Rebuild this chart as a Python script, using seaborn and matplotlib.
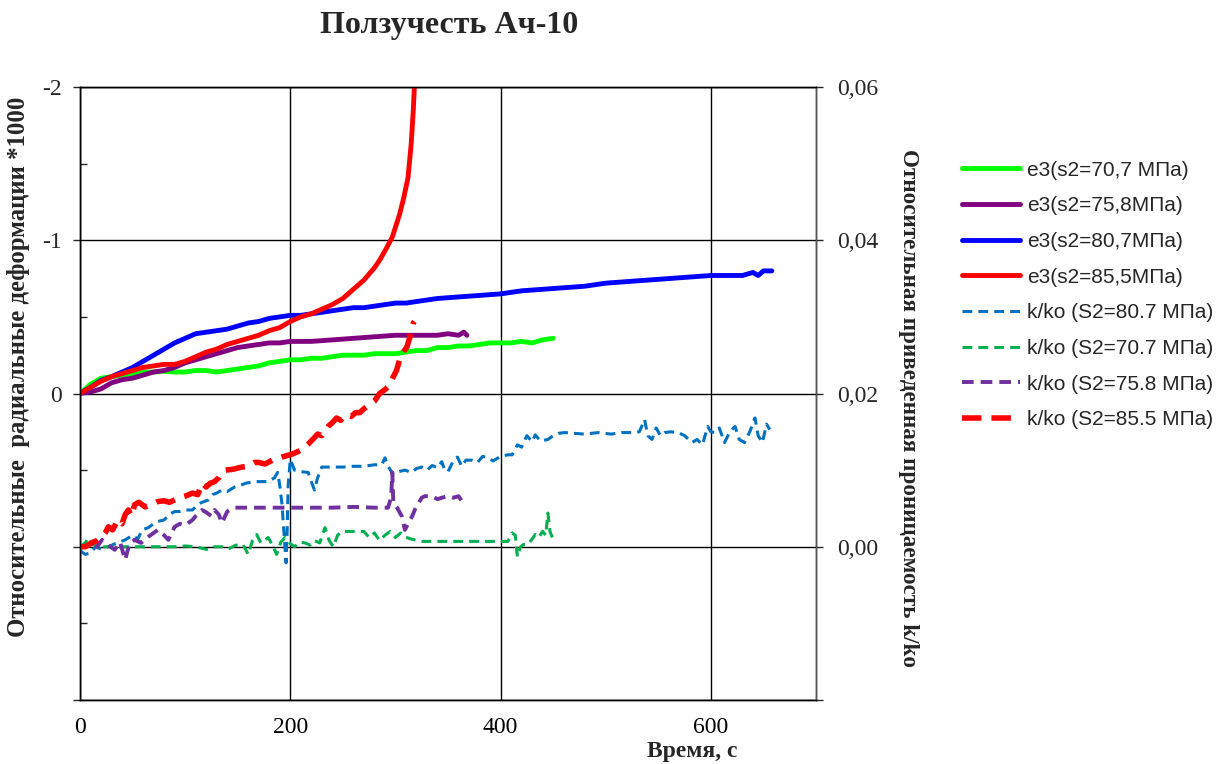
import numpy as np
import pandas as pd
import matplotlib
matplotlib.use("Agg")
import matplotlib.pyplot as plt
import seaborn as sns
from matplotlib.ticker import FixedLocator, FuncFormatter

# ---------------- data ----------------
# e3 (left axis, radial deformation *1000)
g_e3_x = [0, 10, 20, 30, 40, 50, 60, 70, 80, 90, 100, 110, 120, 130, 140, 150, 160, 170, 180, 190,
          200, 210, 220, 230, 240, 250, 260, 270, 280, 290, 300, 310, 320, 330, 340, 350, 360, 370,
          380, 390, 400, 410, 420, 430, 440, 450]
g_e3_y = [0, -0.06, -0.1, -0.11, -0.12, -0.13, -0.14, -0.14, -0.145, -0.14, -0.14, -0.15, -0.15, -0.14,
          -0.15, -0.16, -0.17, -0.18, -0.2, -0.21, -0.22, -0.22, -0.23, -0.23, -0.24, -0.25, -0.25, -0.25,
          -0.26, -0.26, -0.26, -0.27, -0.28, -0.28, -0.3, -0.3, -0.31, -0.31, -0.32, -0.33, -0.33, -0.33,
          -0.34, -0.33, -0.35, -0.36]

p_e3_x = [0, 10, 20, 30, 40, 50, 60, 70, 80, 90, 100, 110, 120, 130, 140, 150, 160, 170, 180, 190,
          200, 220, 240, 260, 280, 300, 320, 340, 350, 360, 365, 368]
p_e3_y = [0, -0.01, -0.03, -0.07, -0.09, -0.1, -0.12, -0.14, -0.15, -0.17, -0.2, -0.22, -0.24, -0.26,
          -0.28, -0.3, -0.31, -0.32, -0.33, -0.33, -0.34, -0.34, -0.35, -0.36, -0.37, -0.38, -0.38, -0.38,
          -0.39, -0.38, -0.40, -0.38]

b_e3_x = [0, 10, 20, 30, 40, 50, 60, 70, 80, 90, 100, 110, 120, 130, 140, 150, 160, 170, 180, 190,
          200, 210, 220, 230, 240, 250, 260, 270, 280, 290, 300, 310, 320, 340, 360, 380, 400, 420,
          440, 460, 480, 500, 520, 540, 560, 580, 600, 620, 630, 640, 645, 650, 658]
b_e3_y = [0, -0.04, -0.085, -0.11, -0.14, -0.17, -0.21, -0.25, -0.29, -0.33, -0.36, -0.39, -0.40, -0.41,
          -0.42, -0.44, -0.46, -0.47, -0.49, -0.50, -0.51, -0.51, -0.52, -0.53, -0.54, -0.55, -0.56,
          -0.56, -0.57, -0.58, -0.59, -0.59, -0.6, -0.62, -0.63, -0.64, -0.65, -0.67, -0.68, -0.69, -0.7,
          -0.72, -0.73, -0.74, -0.75, -0.76, -0.77, -0.77, -0.77, -0.79, -0.77, -0.8, -0.8]

r_e3_x = [0, 10, 20, 30, 40, 50, 60, 70, 80, 90, 100, 110, 120, 130, 140, 150, 160, 170, 180, 190,
          200, 210, 220, 230, 240, 250, 260, 270, 280, 285, 290, 297, 304, 308, 312, 315, 317, 318, 319]
r_e3_y = [0, -0.04, -0.08, -0.11, -0.13, -0.15, -0.17, -0.18, -0.19, -0.19, -0.21, -0.24, -0.27, -0.29,
          -0.32, -0.34, -0.36, -0.38, -0.41, -0.43, -0.47, -0.5, -0.52, -0.55, -0.58, -0.62, -0.68,
          -0.74, -0.82, -0.87, -0.93, -1.02, -1.17, -1.28, -1.41, -1.63, -1.85, -2.0, -2.3]

# k/ko (right axis)
b_k_x = [0, 5, 10, 15, 20, 27, 35, 43, 50, 55, 59, 65, 70, 74, 80, 85, 90, 95, 100, 107, 112, 116,
         122, 126, 130, 135, 140, 147, 152, 158, 166, 172, 179, 185, 188, 190, 192, 194, 196, 197, 198,
         200, 204, 210, 217, 220, 223, 226, 230, 240, 250, 260, 270, 280, 287, 290, 293, 298, 303, 309,
         315, 320, 325, 330, 335, 340, 344, 347, 350, 355, 359, 363, 367, 373, 378, 383, 388, 393, 400,
         407, 411, 416, 420, 425, 430, 433, 438, 445, 450, 455, 461, 470, 480, 493, 505, 515, 525, 532,
         537, 540, 544, 548, 552, 556, 562, 569, 575, 582, 587, 592, 597, 600, 604, 608, 613, 618, 623,
         627, 632, 637, 642, 645, 649, 653, 656]
b_k_y = [-0.0005, -0.001, -0.0008, 0, -0.0003, 0, 0.0005, 0.0009, 0.0015, 0.001, 0.0022, 0.0025, 0.003,
         0.0033, 0.0035, 0.0042, 0.0046, 0.0046, 0.0048, 0.0048, 0.0055, 0.0058, 0.0061, 0.0068, 0.007,
         0.0074, 0.0072, 0.0078, 0.008, 0.0083, 0.0085, 0.0085, 0.0085, 0.009, 0.0097, 0.008, 0.0057,
         0.0018, -0.0021, 0.002, 0.008, 0.0114, 0.010, 0.0098, 0.0097, 0.0085, 0.0074, 0.009, 0.0104,
         0.0104, 0.0104, 0.0105, 0.0105, 0.0107, 0.0107, 0.0116, 0.0105, 0.0094, 0.0098, 0.0100, 0.0097,
         0.0102, 0.0104, 0.0100, 0.0106, 0.0103, 0.0111, 0.0100, 0.0098, 0.0112, 0.0117, 0.0105, 0.0113,
         0.0113, 0.0110, 0.0118, 0.0116, 0.0112, 0.0118, 0.012, 0.012, 0.0133, 0.013, 0.0145, 0.0137,
         0.0146, 0.0138, 0.014, 0.0145, 0.0148, 0.0149, 0.0148, 0.0147, 0.0149, 0.0147, 0.0149, 0.0149,
         0.015, 0.0166, 0.0145, 0.014, 0.0155, 0.0145, 0.0149, 0.015, 0.0149, 0.0145, 0.0136, 0.014,
         0.0133, 0.0157, 0.015, 0.0149, 0.0155, 0.0136, 0.015, 0.0157, 0.014, 0.0136, 0.015, 0.0168,
         0.0145, 0.0136, 0.016, 0.0153]

g_k_x = [0, 5, 8, 12, 18, 30, 50, 70, 90, 100, 110, 122, 128, 135, 141, 148, 155, 160, 164, 168, 172,
         176, 179, 183, 187, 191, 195, 200, 204, 209, 214, 219, 223, 228, 233, 237, 241, 245, 249, 260,
         270, 275, 280, 285, 290, 295, 300, 305, 309, 315, 325, 340, 360, 380, 400, 407, 411, 414, 416,
         419, 422, 426, 430, 433, 436, 440, 443, 445, 447, 450]
g_k_y = [0, 0.0005, 0.0012, 0.0003, 0, 0, 0, 0, 0, 0.0001, 0, -0.0004, 0, 0, -0.0003, 0.0002, 0.0003,
         -0.001, 0.0008, 0.0016, 0.0005, 0.0009, 0.0012, 0.0002, -0.001, 0.0006, 0.0012, 0.0004, 0,
         0.0006, 0.0005, 0.0002, 0.0008, 0.0005, 0.0025, 0.0008, 0, 0.0015, 0.002, 0.002, 0.002, 0.0012,
         0.0018, 0.0008, 0.0015, 0.002, 0.0012, 0.0018, 0.0013, 0.0010, 0.0007, 0.0007, 0.0007, 0.0007,
         0.0007, 0.0007, 0.0018, 0.0015, -0.0013, 0.0, 0.0003, 0.0003, 0.0010, 0.0016, 0.0012, 0.0020,
         0.0015, 0.0044, 0.0020, 0.0009]

p_k_x = [0, 5, 10, 15, 21, 27, 33, 38, 43, 47, 52, 58, 65, 70, 74, 80, 84, 88, 90, 95, 100, 107, 110,
         116, 120, 125, 128, 132, 135, 140, 147, 160, 180, 200, 220, 240, 260, 280, 293, 296, 297, 298,
         302, 306, 309, 312, 316, 319, 322, 325, 328, 335, 340, 344, 350, 355, 360, 363, 366]
p_k_y = [0, 0, 0.0004, -0.0002, 0.0009, 0.0002, -0.0004, 0.0006, -0.0017, 0.0004, 0.0009, 0.0005,
         0.0013, 0.0018, 0.0022, 0.0015, 0.0009, 0.002, 0.0026, 0.003, 0.0028, 0.0035, 0.004, 0.0048,
         0.0045, 0.004, 0.0048, 0.0042, 0.0031, 0.0046, 0.0051, 0.0051, 0.0051, 0.0051, 0.0051, 0.0051,
         0.0052, 0.0051, 0.0051, 0.0065, 0.0097, 0.0057, 0.005, 0.004, 0.0022, 0.003, 0.004, 0.005,
         0.0057, 0.0064, 0.0066, 0.0066, 0.0062, 0.0064, 0.0066, 0.0064, 0.0066, 0.006, 0.0057]

r_k_x = [0, 5, 11, 16, 21, 24, 27, 31, 36, 40, 43, 46, 49, 52, 56, 62, 68, 74, 80, 85, 90, 95, 100,
         107, 112, 116, 120, 124, 128, 132, 135, 138, 145, 154, 160, 166, 170, 176, 183, 188, 192, 197,
         202, 207, 212, 217, 222, 226, 230, 236, 240, 244, 248, 252, 258, 262, 266, 270, 275, 280, 285,
         290, 294, 298, 301, 304, 308, 311, 314, 317, 318]
r_k_y = [0, 0, 0.0005, 0.0008, 0.0013, 0.0018, 0.0026, 0.0022, 0.0035, 0.003, 0.0042, 0.0048, 0.004,
         0.0055, 0.0058, 0.0052, 0.0055, 0.0059, 0.006, 0.0058, 0.0061, 0.0064, 0.0066, 0.007, 0.0068,
         0.0083, 0.0078, 0.0083, 0.0085, 0.009, 0.0097, 0.01, 0.0101, 0.0104, 0.0105, 0.011, 0.011,
         0.0108, 0.0113, 0.0115, 0.0117, 0.0119, 0.0121, 0.0124, 0.0128, 0.0134, 0.0141, 0.0147, 0.0145,
         0.0157, 0.0162, 0.0168, 0.0165, 0.0172, 0.017, 0.0175, 0.0175, 0.018, 0.0185, 0.019, 0.02,
         0.0205, 0.021, 0.0222, 0.023, 0.0244, 0.0255, 0.0261, 0.0275, 0.0292, 0.0294]

labels_e3 = ["e3(s2=70,7 МПа)", "e3(s2=75,8МПа)", "e3(s2=80,7МПа)", "e3(s2=85,5МПа)"]
labels_k = ["k/ko (S2=80.7 МПа)", "k/ko (S2=70.7 МПа)", "k/ko (S2=75.8 МПа)", "k/ko (S2=85.5 МПа)"]

title = "Ползучесть Ач-10"
xlabel = "Время, с"
ylabel_left = "Относительные  радиальные деформации *1000"
ylabel_right = "Относительная приведенная проницаемость k/ko"

# ---------------- plot ----------------
sns.set_style("white")
plt.rcParams["font.family"] = ["Liberation Serif", "DejaVu Serif"]

fig = plt.figure(figsize=(12.17, 7.64), dpi=100)
ax = fig.add_axes([80 / 1217, 1 - 700 / 764, (816 - 80) / 1217, (700 - 87) / 764])
ax2 = ax.twinx()

e3_sets = [(g_e3_x, g_e3_y, "#00FF00"), (p_e3_x, p_e3_y, "#800080"),
           (b_e3_x, b_e3_y, "#0000FF"), (r_e3_x, r_e3_y, "#FF0000")]
handles = []
for (xs, ys, c), lab in zip(e3_sets, labels_e3):
    df = pd.DataFrame({"t": xs, "v": ys})
    sns.lineplot(data=df, x="t", y="v", ax=ax, color=c, lw=3.5, sort=False,
                 estimator=None, label=lab, legend=False)
    handles.append(ax.lines[-1])

k_sets = [(b_k_x, b_k_y, "#0070C0", 2.2, (3.2, 2.0)), (g_k_x, g_k_y, "#00B050", 2.2, (3.2, 2.0)),
          (p_k_x, p_k_y, "#7030A0", 2.8, (3.0, 1.8)), (r_k_x, r_k_y, "#FF0000", 4.0, (3.5, 1.8))]
for (xs, ys, c, lw, dsh), lab in zip(k_sets, labels_k):
    df = pd.DataFrame({"t": xs, "v": ys})
    sns.lineplot(data=df, x="t", y="v", ax=ax2, color=c, lw=lw, sort=False,
                 estimator=None, label=lab, legend=False)
    ln = ax2.lines[-1]
    ln.set_dashes(dsh)
    ln.set_solid_capstyle("butt")
    handles.append(ln)

# axes limits and ticks
ax.set_xlim(0, 700)
ax.set_ylim(2, -2)
ax2.set_ylim(-0.02, 0.06)

ax.xaxis.set_major_locator(FixedLocator([0, 200, 400, 600]))
ax.xaxis.set_minor_locator(FixedLocator([100, 300, 500, 700]))
ax.yaxis.set_major_locator(FixedLocator([-2, -1, 0, 1, 2]))
ax.yaxis.set_minor_locator(FixedLocator([-1.5, -0.5, 0.5, 1.5]))
ax.yaxis.set_major_formatter(FuncFormatter(lambda v, p: f"{v:.0f}" if v <= 0 else ""))
ax2.yaxis.set_major_locator(FixedLocator([-0.02, 0.0, 0.02, 0.04, 0.06]))
ax2.yaxis.set_major_formatter(FuncFormatter(lambda v, p: f"{v:.2f}".replace(".", ",") if v >= -1e-9 else ""))

ax.grid(True, which="major", color="black", lw=1.0)
ax.set_axisbelow(True)

ax.tick_params(axis="x", which="major", direction="out", length=5, width=1, labelsize=17, pad=7, colors="black")
ax.tick_params(axis="x", which="minor", direction="in", length=5, width=1)
ax.tick_params(axis="y", which="major", direction="out", length=5, width=1, labelsize=17, pad=8)
ax.tick_params(axis="y", which="minor", direction="in", length=5, width=1)
ax2.tick_params(axis="y", which="major", direction="out", length=5, width=1, labelsize=17, pad=10)

for a in (ax, ax2):
    for s in a.spines.values():
        s.set_color("black")
        s.set_linewidth(1.0)
ax2.spines["right"].set_color("#555555")

ax.set_xlabel("")
ax.set_ylabel("")
ax2.set_ylabel("")

fig.text(449 / 1217, 1 - 25 / 764, title, ha="center", va="center", fontsize=23, fontweight="bold")
fig.text(692 / 1217, 1 - 751 / 764, xlabel, ha="center", va="center", fontsize=17, fontweight="bold")
fig.text(19 / 1217, 1 - 367 / 764, ylabel_left, ha="center", va="center", rotation=90,
         fontsize=17.8, fontweight="bold")
fig.text(908 / 1217, 1 - 408 / 764, ylabel_right, ha="center", va="center", rotation=-90,
         fontsize=16.7, fontweight="bold")

leg = fig.legend(handles=handles, labels=labels_e3 + labels_k, loc="upper left",
                 bbox_to_anchor=(943 / 1217, 1 - 142 / 764), frameon=False,
                 prop={"family": "Liberation Sans", "size": 15}, handlelength=2.8,
                 handletextpad=0.35, labelspacing=0.8)

fig.savefig("out.png", dpi=100)
